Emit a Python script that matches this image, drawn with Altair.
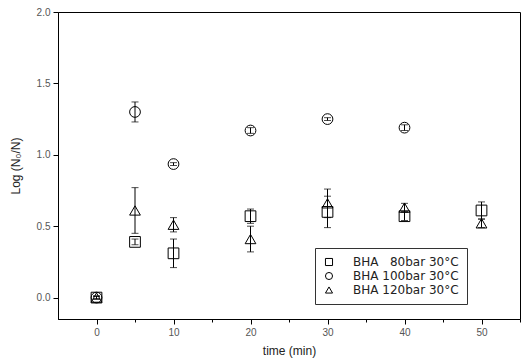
import altair as alt
import pandas as pd

# ---- data ----
series_names = ["BHA \u200780bar 30°C", "BHA 100bar 30°C", "BHA 120bar 30°C"]

t80 = [0, 5, 10, 20, 30, 40, 50]
v80 = [0.0, 0.39, 0.31, 0.57, 0.60, 0.57, 0.61]
e80 = [0.01, 0.02, 0.10, 0.05, 0.11, 0.03, 0.06]

t100 = [0, 5, 10, 20, 30, 40]
v100 = [0.0, 1.30, 0.935, 1.17, 1.25, 1.19]
e100 = [0.01, 0.07, 0.01, 0.02, 0.01, 0.02]

t120 = [0, 5, 10, 20, 30, 40, 50]
v120 = [0.0, 0.61, 0.51, 0.41, 0.66, 0.63, 0.52]
e120 = [0.01, 0.16, 0.05, 0.09, 0.10, 0.03, 0.03]

x_ticks = [0, 5, 10, 15, 20, 25, 30, 35, 40, 45, 50, 55]
y_ticks = [0.0, 0.25, 0.5, 0.75, 1.0, 1.25, 1.5, 1.75, 2.0]

rows = []
for name, ts, vs, es in [(series_names[0], t80, v80, e80),
                         (series_names[1], t100, v100, e100),
                         (series_names[2], t120, v120, e120)]:
    for t, v, e in zip(ts, vs, es):
        rows.append({"series": name, "time": t, "val": v, "lo": v - e, "hi": v + e})
df = pd.DataFrame(rows)

FONT = "Liberation Sans"

x_scale = alt.Scale(domain=[-5, 55], nice=False, zero=False)
y_scale = alt.Scale(domain=[-0.15, 2.0], nice=False, zero=False)

x_axis = alt.Axis(
    title="time (min)", values=x_ticks,
    labelExpr="datum.value % 10 === 0 ? datum.label : ''",
    tickSize={"condition": {"test": "datum.value % 10 !== 0", "value": 3}, "value": 5},
    grid=False, labelFontSize=10, labelColor="#555555", labelFont=FONT,
    titleFont=FONT, titleFontSize=12, titleFontWeight="normal", titleColor="#222222",
    labelPadding=3, titlePadding=8, domainColor="black", tickColor="black",
)
y_axis = alt.Axis(
    title="Log (N₀/N)", values=y_ticks, format=".1f",
    labelExpr="(datum.value * 4) % 2 === 0 ? datum.label : ''",
    tickSize={"condition": {"test": "(datum.value * 4) % 2 !== 0", "value": 3}, "value": 5},
    grid=False, labelFontSize=10, labelColor="#555555", labelFont=FONT,
    titleFont=FONT, titleFontSize=12, titleFontWeight="normal", titleColor="#222222",
    labelPadding=3, titlePadding=14, domainColor="black", tickColor="black",
)

base = alt.Chart(df)

bars = base.mark_rule(color="black", strokeWidth=1).encode(
    x=alt.X("time:Q", scale=x_scale, axis=x_axis),
    y=alt.Y("lo:Q", scale=y_scale, axis=y_axis),
    y2="hi:Q",
)
cap_lo = base.mark_tick(color="black", orient="horizontal", size=7, thickness=1).encode(
    x="time:Q", y="lo:Q")
cap_hi = base.mark_tick(color="black", orient="horizontal", size=7, thickness=1).encode(
    x="time:Q", y="hi:Q")

points = base.mark_point(filled=False, color="black", strokeWidth=1, opacity=1, size=115).encode(
    x="time:Q",
    y="val:Q",
    shape=alt.Shape(
        "series:N",
        scale=alt.Scale(domain=series_names, range=["square", "circle", "triangle-up"]),
        legend=alt.Legend(
            title=None, orient="none", legendX=257, legendY=236,
            strokeColor="#333333", fillColor="white", padding=8,
            labelFont="DejaVu Sans", labelFontSize=12, labelColor="#222222",
            symbolStrokeColor="black", symbolFillColor="transparent",
            symbolSize=50, symbolStrokeWidth=1, labelOffset=18, rowPadding=2,
            cornerRadius=0,
        ),
    ),
)

chart = alt.layer(bars, cap_lo, cap_hi, points).properties(
    width=462, height=307,
    autosize=alt.AutoSizeParams(type="none"),
    padding={"left": 58, "top": 12, "right": 2, "bottom": 45},
    background="white",
).configure_view(stroke="black", strokeWidth=1)

chart.save("out.html", embed_options={"renderer": "svg", "actions": False})
